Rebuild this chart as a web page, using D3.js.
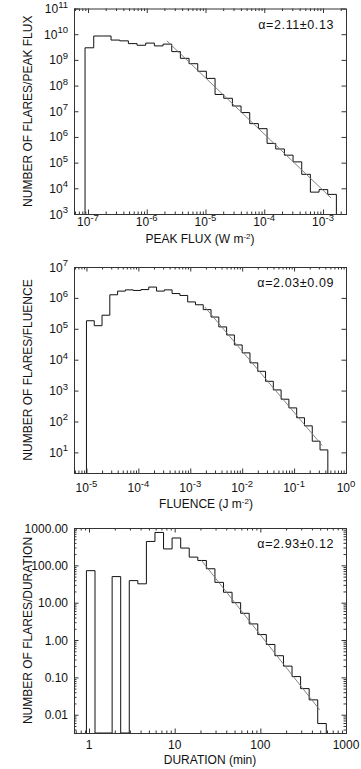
<!DOCTYPE html>
<html>
<head>
<meta charset="utf-8">
<script src="https://cdn.jsdelivr.net/npm/d3@7"></script>
<style>
  body { margin: 0; background: #fff; }
  svg { display: block; font-family: "Liberation Sans", Arial, sans-serif; }
</style>
</head>
<body>
<svg id="chart" width="361" height="769"></svg>
<script>
// ---- data ----

// panel 1: peak flux histogram (bin edges in W m^-2, counts per unit flux)
const fluxEdges = [8.91e-8, 1.252e-7, 1.758e-7, 2.469e-7, 3.467e-7, 4.869e-7, 6.839e-7, 9.605e-7,
  1.349e-6, 1.894e-6, 2.661e-6, 3.737e-6, 5.248e-6, 7.371e-6, 1.035e-5, 1.454e-5, 2.042e-5,
  2.868e-5, 4.027e-5, 5.656e-5, 7.943e-5, 1.116e-4, 1.567e-4, 2.2e-4, 3.09e-4, 4.34e-4,
  6.095e-4, 8.56e-4, 1.202e-3, 1.688e-3];
const fluxCounts = [2.95e9, 8.5e9, 8.5e9, 5.9e9, 5.5e9, 4.3e9, 3.7e9, 4.5e9, 3.5e9, 4.1e9,
  2.1e9, 1.15e9, 7.1e8, 3.6e8, 1.9e8, 4.5e7, 3.2e7, 1.6e7, 8.9e6, 3.3e6, 2.1e6, 5.6e5,
  3.4e5, 1.95e5, 1.07e5, 3.5e4, 7.1e3, 8.9e3, 5.8e3];
const fluxFitX = [2.2e-6, 1.37e-3];
const fluxFitY = [5.5e9, 4.2e3];
const fluxTicksX = [1e-7, 1e-6, 1e-5, 1e-4, 1e-3];
const fluxLabelsX = ["10^-7", "10^-6", "10^-5", "10^-4", "10^-3"];
const fluxTicksY = [1e3, 1e4, 1e5, 1e6, 1e7, 1e8, 1e9, 1e10, 1e11];
const fluxLabelsY = ["10^3", "10^4", "10^5", "10^6", "10^7", "10^8", "10^9", "10^10", "10^11"];

// panel 2: fluence histogram (J m^-2)
const fluenceEdges = [1e-5, 1.413e-5, 1.995e-5, 2.818e-5, 3.981e-5, 5.623e-5, 7.943e-5,
  1.122e-4, 1.585e-4, 2.239e-4, 3.162e-4, 4.467e-4, 6.31e-4, 8.913e-4, 1.259e-3, 1.778e-3,
  2.512e-3, 3.548e-3, 5.012e-3, 7.079e-3, 1e-2, 1.413e-2, 1.995e-2, 2.818e-2, 3.981e-2,
  5.623e-2, 7.943e-2, 0.1122, 0.1585, 0.2239, 0.3162, 0.4467];
const fluenceCounts = [1.82e5, 1.26e5, 2.75e5, 1.26e6, 1.66e6, 1.82e6, 1.74e6, 1.86e6, 2.24e6,
  1.66e6, 1.82e6, 1.38e6, 1.2e6, 7.4e5, 6.0e5, 4.17e5, 2.4e5, 1.15e5, 6.3e4, 3.0e4, 1.66e4,
  7.9e3, 4.2e3, 2.0e3, 1.05e3, 525, 275, 132, 72, 23, 12];
const fluenceFitX = [1.9e-3, 0.348];
const fluenceFitY = [5.1e5, 16.6];
const fluenceTicksX = [1e-5, 1e-4, 1e-3, 1e-2, 1e-1, 1];
const fluenceLabelsX = ["10^-5", "10^-4", "10^-3", "10^-2", "10^-1", "10^0"];
const fluenceTicksY = [1e1, 1e2, 1e3, 1e4, 1e5, 1e6, 1e7];
const fluenceLabelsY = ["10^1", "10^2", "10^3", "10^4", "10^5", "10^6", "10^7"];

// panel 3: duration histogram (min)
const durEdges = [0.933, 1.175, 1.479, 1.862, 2.344, 2.951, 3.715, 4.677, 5.888, 7.413, 9.333,
  11.75, 14.79, 18.62, 23.44, 29.51, 37.15, 46.77, 58.88, 74.13, 93.33, 117.5, 147.9, 186.2,
  234.4, 295.1, 371.5, 467.7, 588.8];
const durCounts = [72, 0, 0, 50, 0, 39, 32, 436, 760, 275, 540, 290, 166, 135, 81, 35, 19,
  10, 5.2, 2.7, 1.4, 0.76, 0.38, 0.2, 0.105, 0.05, 0.025, 0.0058];
const durFitX = [20.5, 493];
const durFitY = [136, 0.0135];
const durTicksX = [1, 10, 100, 1000];
const durLabelsX = ["1", "10", "100", "1000"];
const durTicksY = [0.01, 0.1, 1, 10, 100, 1000];
const durLabelsY = ["0.01", "0.10", "1.00", "10.00", "100.00", "1000.00"];

const panels = [
  { top: 8.5, bottom: 214, xDomain: [10 ** -7.238, 10 ** -2.609], yDomain: [1e3, 1e11],
    edges: fluxEdges, counts: fluxCounts, fitX: fluxFitX, fitY: fluxFitY,
    ticksX: fluxTicksX, labelsX: fluxLabelsX, ticksY: fluxTicksY, labelsY: fluxLabelsY,
    yMinor: false, alpha: "α=2.11±0.13",
    xTitle: ["PEAK FLUX (W m", "-2", ")"], yTitle: "NUMBER OF FLARES/PEAK FLUX",
    labelDy: 12, titleDy: 29, titleX: 126 },
  { top: 267, bottom: 473, xDomain: [10 ** -5.24, 1], yDomain: [2.15, 1e7],
    edges: fluenceEdges, counts: fluenceCounts, fitX: fluenceFitX, fitY: fluenceFitY,
    ticksX: fluenceTicksX, labelsX: fluenceLabelsX, ticksY: fluenceTicksY, labelsY: fluenceLabelsY,
    yMinor: false, alpha: "α=2.03±0.09",
    xTitle: ["FLUENCE (J m", "-2", ")"], yTitle: "NUMBER OF FLARES/FLUENCE",
    labelDy: 19, titleDy: 35, titleX: 132 },
  { top: 528, bottom: 733, xDomain: [0.668, 1000], yDomain: [10 ** -2.49, 1000],
    edges: durEdges, counts: durCounts, fitX: durFitX, fitY: durFitY,
    ticksX: durTicksX, labelsX: durLabelsX, ticksY: durTicksY, labelsY: durLabelsY,
    yMinor: true, alpha: "α=2.93±0.12",
    xTitle: ["DURATION (min)"], yTitle: "NUMBER OF FLARES/DURATION",
    labelDy: 16, titleDy: 31, titleX: 136 }
];

const left = 74, right = 346;
const svg = d3.select("#chart");

// minor log ticks 2..9 in each decade inside the domain
function minorTicks(domain) {
  let out = [];
  let lo = Math.floor(Math.log10(domain[0]));
  let hi = Math.ceil(Math.log10(domain[1]));
  for (let e = lo; e < hi; e++) {
    for (let m = 2; m <= 9; m++) {
      let v = m * Math.pow(10, e);
      if (v >= domain[0] && v <= domain[1]) out.push(v);
    }
  }
  return out;
}

// "10^-7" -> "10" + superscript "-7"
function addLabel(sel, label) {
  let parts = label.split("^");
  sel.append("tspan").text(parts[0]);
  if (parts.length > 1) {
    sel.append("tspan").attr("dy", -5.5).attr("font-size", 9.5).text(parts[1]);
  }
}

panels.forEach((p, idx) => {
  let w = right - left;
  let h = p.bottom - p.top;
  let g = svg.append("g").attr("transform", `translate(${left}, ${p.top})`);

  let x = d3.scaleLog().domain(p.xDomain).range([0, w]);
  let y = d3.scaleLog().domain(p.yDomain).range([h, 0]);

  // clip region for the data
  g.append("clipPath").attr("id", "clip" + idx)
    .append("rect").attr("width", w).attr("height", h);

  // histogram as a step line, empty bins drop to the bottom of the plot
  let pts = [[x(p.edges[0]), h]];
  p.counts.forEach((c, i) => {
    let yy = c > 0 ? Math.min(y(c), h) : h;
    pts.push([x(p.edges[i]), yy]);
    pts.push([x(p.edges[i + 1]), yy]);
  });
  pts.push([x(p.edges[p.edges.length - 1]), h]);

  g.append("path")
    .attr("clip-path", `url(#clip${idx})`)
    .attr("d", d3.line()(pts))
    .attr("fill", "none")
    .attr("stroke", "#111")
    .attr("stroke-width", 1);

  // power-law fit
  g.append("line")
    .attr("x1", x(p.fitX[0])).attr("y1", y(p.fitY[0]))
    .attr("x2", x(p.fitX[1])).attr("y2", y(p.fitY[1]))
    .attr("stroke", "#777")
    .attr("stroke-width", 0.9);

  // inward ticks on all four sides
  let xMinor = minorTicks(p.xDomain);
  let yMinor = p.yMinor ? minorTicks(p.yDomain) : [];
  let sides = [
    [d3.axisBottom(x), `translate(0, ${h})`, p.ticksX, xMinor],
    [d3.axisTop(x), "translate(0, 0)", p.ticksX, xMinor],
    [d3.axisLeft(y), "translate(0, 0)", p.ticksY, yMinor],
    [d3.axisRight(y), `translate(${w}, 0)`, p.ticksY, yMinor]
  ];
  sides.forEach(([axis, tr, major, minor]) => {
    g.append("g").attr("transform", tr)
      .call(axis.tickValues(major).tickSize(-4.5).tickFormat(""))
      .call(a => a.select(".domain").remove());
    if (minor.length) {
      g.append("g").attr("transform", tr)
        .call(axis.tickValues(minor).tickSize(-2.5).tickFormat(""))
        .call(a => a.select(".domain").remove());
    }
  });
  g.selectAll(".tick line").attr("stroke", "#333");

  // frame
  g.append("rect")
    .attr("x", 0.5).attr("y", 0.5)
    .attr("width", w).attr("height", h)
    .attr("fill", "none")
    .attr("stroke", "#333")
    .attr("stroke-width", 1);

  // tick labels
  p.ticksX.forEach((t, i) => {
    let txt = g.append("text")
      .attr("x", x(t)).attr("y", h + p.labelDy)
      .attr("text-anchor", "middle")
      .attr("font-size", 12).attr("fill", "#111");
    addLabel(txt, p.labelsX[i]);
  });
  p.ticksY.forEach((t, i) => {
    let txt = g.append("text")
      .attr("x", -6).attr("y", y(t) + 4.5)
      .attr("text-anchor", "end")
      .attr("font-size", 12).attr("fill", "#111");
    addLabel(txt, p.labelsY[i]);
  });

  // alpha
  g.append("text")
    .attr("x", 260).attr("y", 20)
    .attr("text-anchor", "end")
    .attr("font-size", 12.5)
    .attr("letter-spacing", 0.6)
    .attr("fill", "#111")
    .text(p.alpha);

  // axis titles
  let xt = g.append("text")
    .attr("x", p.titleX).attr("y", h + p.titleDy)
    .attr("text-anchor", "middle")
    .attr("font-size", 12).attr("fill", "#111");
  xt.append("tspan").text(p.xTitle[0]);
  if (p.xTitle.length > 1) {
    xt.append("tspan").attr("dy", -4).attr("font-size", 8).text(p.xTitle[1]);
    xt.append("tspan").attr("dy", 4).text(p.xTitle[2]);
  }

  g.append("text")
    .attr("transform", `translate(${31.5 - left}, ${h / 2}) rotate(-90)`)
    .attr("text-anchor", "middle")
    .attr("font-size", 12).attr("fill", "#111")
    .text(p.yTitle);
});
</script>
</body>
</html>
